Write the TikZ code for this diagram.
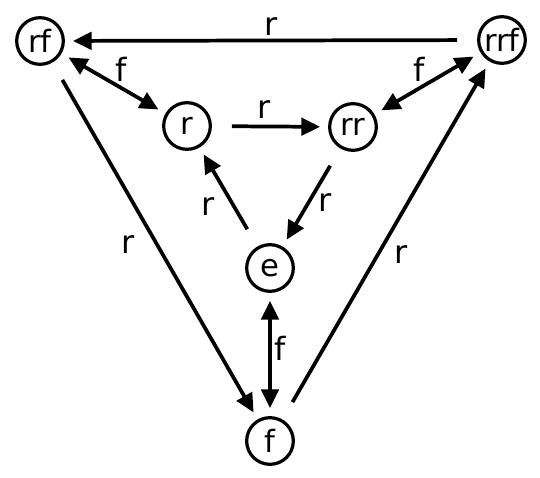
\documentclass[tikz,border=0pt]{standalone}
\usepackage{fontspec}
\setmainfont{DejaVu Sans}
\usetikzlibrary{arrows.meta}
\tikzset{
  state/.style={circle, draw, line width=2.4pt, minimum size=35pt, inner sep=0pt},
  link/.style={line width=2.8pt, -{Triangle[length=14pt,width=13pt]}, shorten >=6pt, shorten <=15pt},
  both/.style={line width=2.8pt, {Triangle[length=14pt,width=13pt]}-{Triangle[length=14pt,width=13pt]}, shorten >=6pt, shorten <=6pt},
  lbl/.style={font=\fontsize{24}{28}\selectfont}
}
\begin{document}
\begin{tikzpicture}[x=0.75pt, y=-0.75pt, font=\fontsize{23}{27}\selectfont]
  \useasboundingbox (0,0) rectangle (540,478);

  \node[state] (rf)  at (40,41)   {rf};
  \node[state] (rrf) at (502,40)  {rrf};
  \node[state] (r)   at (187,126) {r};
  \node[state] (rr)  at (353,127) {rr};
  \node[state] (e)   at (270,268) {e};
  \node[state] (f)   at (270,441) {f};

  \draw[link] (rrf) -- (rf) node[midway,above=-1pt,lbl]{r};
  \draw[both] (rf) -- (r) node[midway,above right=-3pt,lbl]{f};
  \draw[link] (r) -- (rr) node[pos=0.45,above=1pt,lbl]{r};
  \draw[link] (rr) -- (e) node[pos=0.55,right=3pt,lbl]{r};
  \draw[link] (e) -- (r) node[pos=0.4,left=10pt,lbl]{r};
  \draw[both] (e) -- (f) node[pos=0.45,right=-1pt,lbl]{f};
  \draw[link] (rf) -- (f) node[pos=0.51,left=12pt,lbl]{r};
  \draw[link] (f) -- (rrf) node[pos=0.46,right=8pt,lbl]{r};
  \draw[both] (rr) -- (rrf) node[midway,above left=-3pt,lbl]{f};
\end{tikzpicture}
\end{document}
